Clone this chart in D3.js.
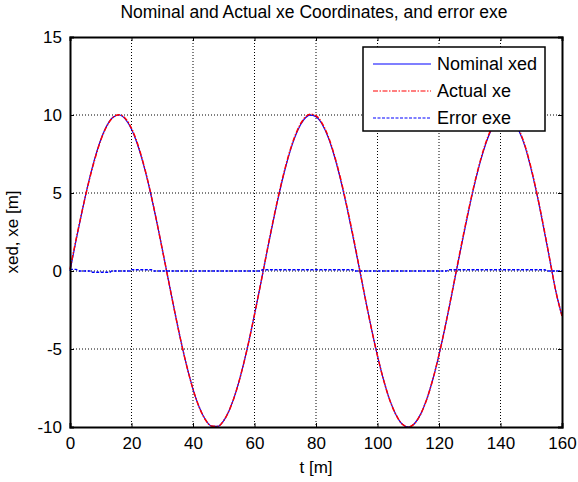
<!DOCTYPE html>
<html>
<head>
<meta charset="utf-8">
<script src="https://cdn.jsdelivr.net/npm/d3@7"></script>
<style>
    body { margin: 0; background: #fff; }
    text { font-family: "Liberation Sans", Arial, sans-serif; fill: #000; }
    .grid line { stroke: #000; stroke-dasharray: 1,2; }
</style>
</head>
<body>
<div id="chart"></div>
<script>
// sample positions along t [m]
const tValues = [0, 2, 4, 6, 8, 10, 12, 14, 16, 18, 20, 22, 24, 26, 28, 30, 32, 34, 36, 38,
    40, 42, 44, 46, 48, 50, 52, 54, 56, 58, 60, 62, 64, 66, 68, 70, 72, 74, 76, 78,
    80, 82, 84, 86, 88, 90, 92, 94, 96, 98, 100, 102, 104, 106, 108, 110, 112, 114, 116, 118,
    120, 122, 124, 126, 128, 130, 132, 134, 136, 138, 140, 142, 144, 146, 148, 150, 152, 154, 156, 158, 160];

// nominal xed
const nominalXed = [0, 1.99, 3.89, 5.65, 7.17, 8.41, 9.32, 9.85, 10.0, 9.74, 9.09, 8.08, 6.75, 5.16, 3.35, 1.41, -0.58, -2.56, -4.43, -6.12,
    -7.57, -8.72, -9.52, -9.94, -9.96, -9.59, -8.83, -7.73, -6.31, -4.65, -2.79, -0.83, 1.17, 3.12, 4.94, 6.57, 7.94, 8.99, 9.68, 9.99,
    9.89, 9.41, 8.55, 7.34, 5.85, 4.12, 2.23, 0.25, -1.74, -3.67, -5.44, -7.00, -8.28, -9.21, -9.81, -10.0, -9.79, -9.19, -8.23, -6.94,
    -5.37, -3.58, -1.66, 0.34, 2.32, 4.20, 5.92, 7.40, 8.59, 9.43, 9.91, 9.99, 9.68, 8.99, 7.96, 6.50, 4.76, 2.80, 0.75, -1.31, -2.88];

// actual xe sits on top of the nominal curve
const actualXe = [0.1, 2.05, 3.9, 5.62, 7.12, 8.38, 9.3, 9.85, 10.02, 9.78, 9.15, 8.14, 6.8, 5.2, 3.36, 1.4, -0.58, -2.56, -4.43, -6.12,
    -7.57, -8.72, -9.52, -9.94, -9.96, -9.59, -8.83, -7.73, -6.31, -4.65, -2.79, -0.83, 1.2, 3.17, 5.0, 6.63, 8.0, 9.05, 9.74, 10.05,
    9.95, 9.47, 8.61, 7.4, 5.91, 4.18, 2.3, 0.3, -1.74, -3.67, -5.44, -7.00, -8.28, -9.21, -9.81, -10.0, -9.79, -9.19, -8.23, -6.94,
    -5.37, -3.58, -1.62, 0.4, 2.38, 4.26, 5.98, 7.46, 8.65, 9.49, 9.97, 10.05, 9.74, 9.05, 8.02, 6.56, 4.82, 2.86, 0.78, -1.31, -2.88];

// error exe (step-like, close to zero)
const errorT = [0, 2, 3, 6.5, 7, 13, 13.5, 19.5, 20, 26.5, 27, 62, 62.5, 92, 92.5, 122.5, 123, 154.5, 155, 160];
const errorV = [0.1, 0.1, 0, 0, -0.08, -0.08, 0, 0, 0.08, 0.08, 0, 0, 0.08, 0.08, 0, 0, 0.08, 0.08, 0, 0];

const xTicks = [0, 20, 40, 60, 80, 100, 120, 140, 160];
const yTicks = [-10, -5, 0, 5, 10, 15];

const legendLabels = ["Nominal xed", "Actual xe", "Error exe"];

const margin = { top: 37, right: 16, bottom: 55, left: 70 };
const width = 578 - margin.left - margin.right;
const height = 482 - margin.top - margin.bottom;

const svg = d3.select("#chart")
    .append("svg")
    .attr("width", 578)
    .attr("height", 482)
    .append("g")
    .attr("transform", `translate(${margin.left}, ${margin.top})`);

const x = d3.scaleLinear().domain([0, 160]).range([0, width]);
const y = d3.scaleLinear().domain([-10, 15]).range([height, 0]);

// grid
svg.append("g")
    .attr("class", "grid")
    .selectAll("line.v")
    .data(xTicks.slice(1, -1))
    .enter()
    .append("line")
    .attr("x1", d => x(d)).attr("x2", d => x(d))
    .attr("y1", 0).attr("y2", height);

svg.append("g")
    .attr("class", "grid")
    .selectAll("line.h")
    .data(yTicks.slice(1, -1))
    .enter()
    .append("line")
    .attr("x1", 0).attr("x2", width)
    .attr("y1", d => y(d)).attr("y2", d => y(d));

// lines
const nominalLine = d3.line()
    .x((d, i) => x(tValues[i]))
    .y(d => y(d))
    .curve(d3.curveMonotoneX);

svg.append("path")
    .datum(nominalXed)
    .attr("fill", "none")
    .attr("stroke", "#0000ff")
    .attr("stroke-width", 1.2)
    .attr("d", nominalLine);

svg.append("path")
    .datum(actualXe)
    .attr("fill", "none")
    .attr("stroke", "#ff0000")
    .attr("stroke-width", 1.5)
    .attr("stroke-dasharray", "5,1.5,1.5,1.5")
    .attr("d", nominalLine);

const errorLine = d3.line()
    .x((d, i) => x(errorT[i]))
    .y(d => y(d));

svg.append("path")
    .datum(errorV)
    .attr("fill", "none")
    .attr("stroke", "#0000ff")
    .attr("stroke-width", 1.3)
    .attr("stroke-dasharray", "3,1.5")
    .attr("d", errorLine);

// axes
const fmt = d => String(d);
const xAxis = svg.append("g")
    .attr("transform", `translate(0, ${height})`)
    .call(d3.axisBottom(x).tickValues(xTicks).tickSize(-4).tickPadding(10).tickFormat(fmt));
const xAxisTop = svg.append("g")
    .call(d3.axisTop(x).tickValues(xTicks).tickSize(-4).tickFormat(""));
const yAxis = svg.append("g")
    .call(d3.axisLeft(y).tickValues(yTicks).tickSize(-4).tickPadding(8).tickFormat(fmt));
const yAxisRight = svg.append("g")
    .attr("transform", `translate(${width}, 0)`)
    .call(d3.axisRight(y).tickValues(yTicks).tickSize(-4).tickFormat(""));

[xAxis, xAxisTop, yAxis, yAxisRight].forEach(g => {
    g.select(".domain").attr("stroke", "#000").attr("stroke-width", 2);
    g.selectAll(".tick line").attr("stroke", "#000");
    g.selectAll(".tick text")
        .style("font-family", "'Liberation Sans', Arial, sans-serif")
        .style("font-size", "17px")
        .attr("fill", "#000");
});

// title and axis labels
svg.append("text")
    .attr("x", 314 - margin.left)
    .attr("y", -19)
    .attr("text-anchor", "middle")
    .style("font-size", "17.5px")
    .text("Nominal and Actual xe Coordinates, and error exe");

svg.append("text")
    .attr("x", width / 2)
    .attr("y", height + 46)
    .attr("text-anchor", "middle")
    .style("font-size", "17px")
    .text("t [m]");

svg.append("text")
    .attr("transform", "rotate(-90)")
    .attr("x", -(232 - margin.top))
    .attr("y", -52)
    .attr("text-anchor", "middle")
    .style("font-size", "17px")
    .text("xed, xe [m]");

// legend
const legend = svg.append("g")
    .attr("transform", `translate(${363 - margin.left}, ${47 - margin.top})`);

legend.append("rect")
    .attr("width", 182)
    .attr("height", 84)
    .attr("fill", "#fff")
    .attr("stroke", "#000")
    .attr("stroke-width", 1.5);

const legendStyles = [
    { color: "#0000ff", dash: null },
    { color: "#ff0000", dash: "5,1.5,1.5,1.5" },
    { color: "#0000ff", dash: "3,1.5" }
];

legendLabels.forEach((label, i) => {
    const ly = 17 + i * 27;
    legend.append("line")
        .attr("x1", 10).attr("x2", 68)
        .attr("y1", ly).attr("y2", ly)
        .attr("stroke", legendStyles[i].color)
        .attr("stroke-width", 1.2)
        .attr("stroke-dasharray", legendStyles[i].dash);
    legend.append("text")
        .attr("x", 74)
        .attr("y", ly + 6)
        .style("font-size", "18px")
        .text(label);
});
</script>
</body>
</html>
